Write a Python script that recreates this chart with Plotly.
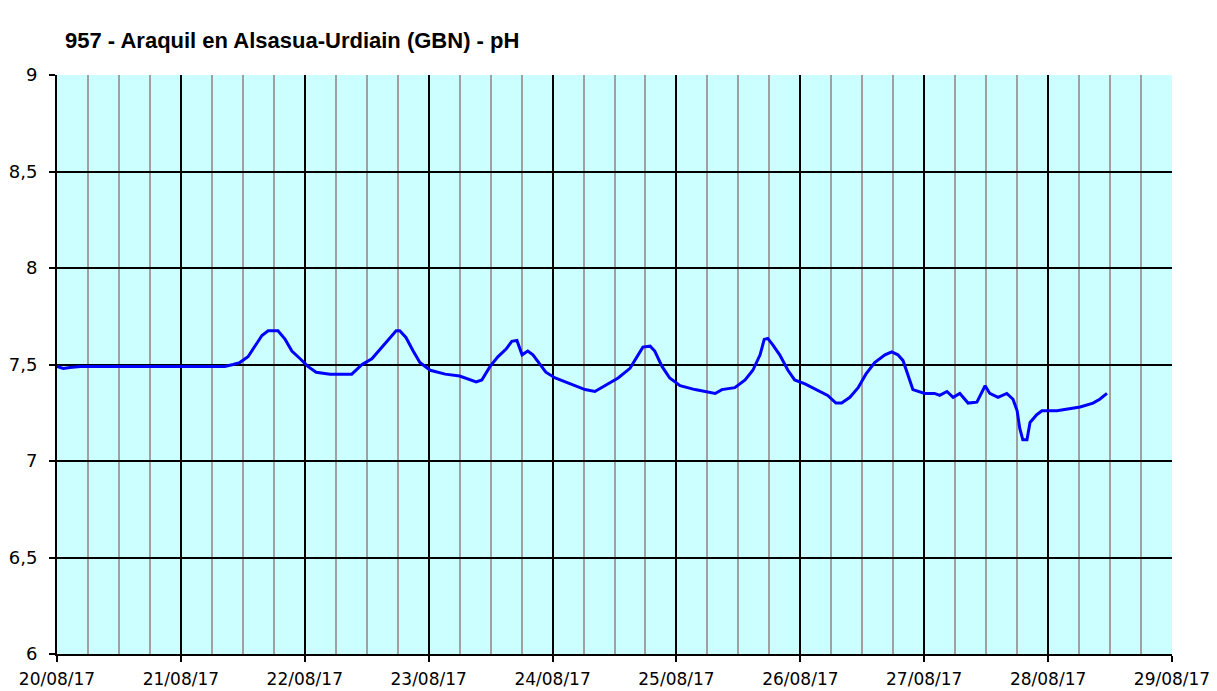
import pandas as pd
import plotly.graph_objects as go

title = "957 - Araquil en Alsasua-Urdiain (GBN) - pH"
start = "2017-08-20 00:00"
end = "2017-08-29 00:00"

# hours since 20/08/17 00:00
hours = [0, 1.2, 2.5, 4.5, 24, 32.5, 34.1, 35.4, 37, 38.4, 39.7, 40.9, 42.8, 44.2, 45.5,
         47.1, 48.6, 50.2, 52.9, 57.1, 59.1, 61, 63, 64.5, 65.7, 66.4, 67.6, 69, 70.3,
         72.3, 75.2, 78, 81.2, 82.3, 83.9, 85.4, 87, 88.1, 89.1, 90.1, 91.2, 92.2, 93.6,
         94.7, 96.5, 99.4, 102.3, 104.2, 106.2, 108.7, 111, 112.6, 113.5, 114.9, 115.8,
         117.2, 118.7, 120.7, 123.6, 127.5, 128.8, 131.3, 133.3, 134.8, 136.2, 137, 137.7,
         138.7, 140, 141.6, 142.9, 144.9, 147.8, 149.3, 150.9, 152, 153.6, 155.2, 156.7,
         158.4, 160.4, 161.7, 162.9, 163.9, 164.8, 165.8, 168.1, 170, 171, 172.4, 173.6,
         174.9, 176.5, 178.2, 179.8, 180.7, 182.3, 184, 185.2, 186, 186.5, 187.1, 187.9,
         188.5, 189.8, 190.8, 193.7, 195.7, 198.2, 200.7, 202, 203.4]
ph = [7.49, 7.48, 7.485, 7.49, 7.49, 7.49, 7.50, 7.51, 7.54, 7.60, 7.65, 7.675, 7.675, 7.63, 7.57,
      7.53, 7.49, 7.46, 7.45, 7.45, 7.50, 7.53, 7.59, 7.64, 7.675, 7.675, 7.64, 7.57, 7.51,
      7.47, 7.45, 7.44, 7.41, 7.42, 7.49, 7.54, 7.58, 7.62, 7.625, 7.55, 7.57, 7.55, 7.50,
      7.46, 7.43, 7.40, 7.37, 7.36, 7.39, 7.43, 7.48, 7.55, 7.59, 7.595, 7.57,
      7.49, 7.43, 7.39, 7.37, 7.35, 7.37, 7.38, 7.42, 7.47, 7.55, 7.63, 7.635,
      7.60, 7.55, 7.47, 7.42, 7.40, 7.36, 7.34, 7.30, 7.30, 7.33, 7.38, 7.45,
      7.51, 7.55, 7.565, 7.55, 7.52, 7.45, 7.37, 7.35, 7.35, 7.34, 7.36, 7.33,
      7.35, 7.30, 7.305, 7.39, 7.35, 7.33, 7.35, 7.32, 7.26, 7.17, 7.11, 7.11,
      7.20, 7.24, 7.26, 7.26, 7.27, 7.28, 7.30, 7.32, 7.35]

times = pd.Timestamp(start) + pd.to_timedelta(hours, unit="h")

fig = go.Figure()
fig.add_trace(go.Scatter(x=times, y=ph, mode="lines",
                         line=dict(color="#0000ff", width=3), showlegend=False))

fig.update_layout(
    width=1217, height=691,
    margin=dict(l=49, r=53, t=67, b=45, autoexpand=False),
    paper_bgcolor="white", plot_bgcolor="#ccffff",
    separators=",.",
    title=dict(text="<b>" + title + "</b>", x=57 / 1217, xanchor="left",
               y=1 - 32 / 691, yanchor="middle",
               font=dict(family="Liberation Sans", size=22, color="black")),
    font=dict(family="DejaVu Sans", size=17, color="black"),
)
fig.update_xaxes(
    type="date", range=[start, end], dtick=86400000, tick0=start,
    tickformat="%d/%m/%y", showgrid=True, gridcolor="black", gridwidth=1.5,
    ticks="outside", ticklen=6, tickcolor="black", tickwidth=1.5,
    showline=True, linecolor="black", linewidth=2, automargin=False,
    minor=dict(dtick=6 * 3600000, tick0=start, showgrid=True, gridcolor="#a0a0a0", gridwidth=1.5),
    zeroline=False, tickfont=dict(family="DejaVu Sans", size=17, color="black"),
    ticklabelstandoff=3,
)
fig.update_yaxes(
    range=[6, 9], dtick=0.5, tick0=6, showgrid=True, gridcolor="black", gridwidth=1.5,
    ticks="outside", ticklen=6, tickcolor="black", tickwidth=1.5, automargin=False,
    showline=True, linecolor="black", linewidth=2, zeroline=False,
    tickfont=dict(family="DejaVu Sans", size=18, color="black"), ticklabelstandoff=8,
)

fig.write_html("out.html")
